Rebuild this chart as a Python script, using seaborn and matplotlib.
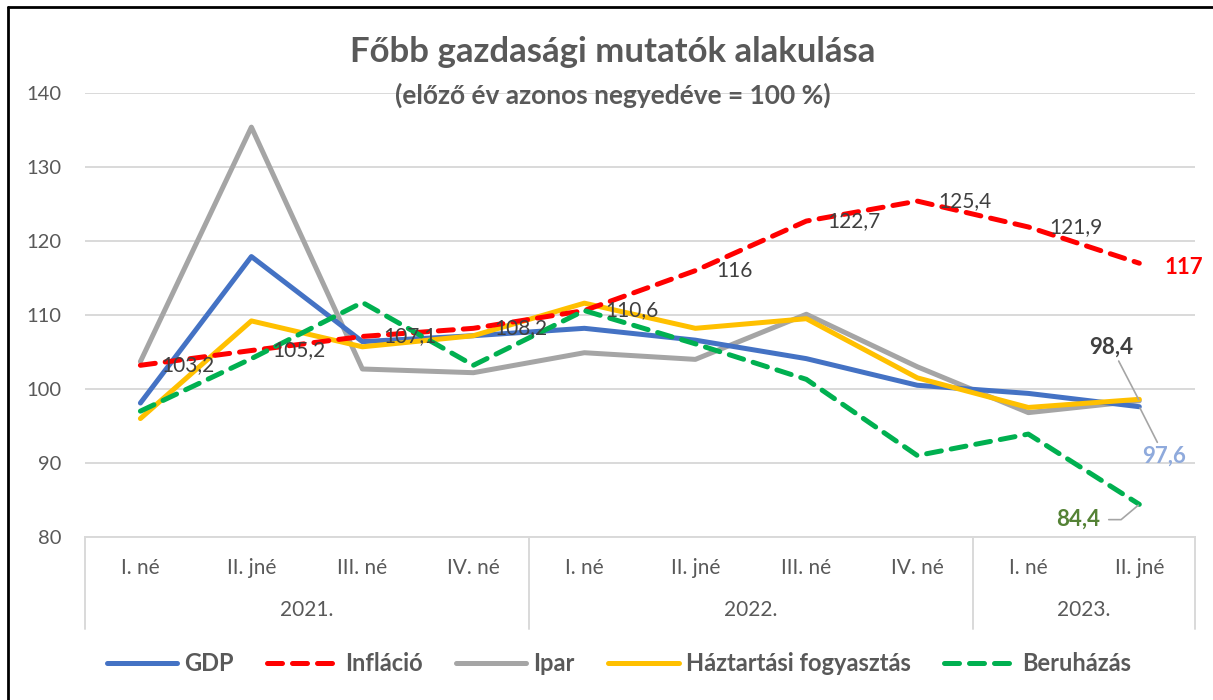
import matplotlib
matplotlib.use("Agg")
import matplotlib.pyplot as plt
import matplotlib.transforms as mtransforms
from matplotlib.lines import Line2D
import seaborn as sns
import pandas as pd

# ------------------------------------------------------------------
# Data
# ------------------------------------------------------------------
quarters = ["I. né", "II. jné", "III. né", "IV. né",
            "I. né", "II. jné", "III. né", "IV. né",
            "I. né", "II. jné"]
years = ["2021.", "2022.", "2023."]
year_sizes = [4, 4, 2]

gdp = [98.1, 117.9, 106.4, 107.2, 108.2, 106.6, 104.1, 100.5, 99.4, 97.6]
inflacio = [103.2, 105.2, 107.1, 108.2, 110.6, 116.0, 122.7, 125.4, 121.9, 117.0]
ipar = [103.7, 135.4, 102.7, 102.2, 104.9, 104.0, 110.1, 103.0, 96.8, 98.4]
haztartas = [96.0, 109.2, 105.7, 107.2, 111.6, 108.2, 109.5, 101.5, 97.5, 98.6]
beruhazas = [97.0, 104.1, 111.7, 103.2, 110.6, 106.1, 101.3, 91.0, 93.9, 84.4]

series_names = ["GDP", "Infláció", "Ipar", "Háztartási fogyasztás", "Beruházás"]
colors = {"GDP": "#4472C4", "Infláció": "#FF0000", "Ipar": "#A5A5A5",
          "Háztartási fogyasztás": "#FFC000", "Beruházás": "#00B050"}
dashed = {"Infláció", "Beruházás"}
DASH = (0, (3, 2))

sns.set_theme(style="white")
plt.rcParams["font.family"] = ["Lato", "DejaVu Sans"]

TXT = "#595959"
GRID = "#D9D9D9"

df = pd.DataFrame({"x": list(range(len(quarters))) * 5,
                   "value": gdp + inflacio + ipar + haztartas + beruhazas,
                   "series": sum([[s] * len(quarters) for s in series_names], [])})

fig = plt.figure(figsize=(12.13, 7.0), dpi=100)
ax = fig.add_axes([0.070, 0.233, 0.915, 0.634])

draw_order = ["Ipar", "GDP", "Háztartási fogyasztás", "Infláció", "Beruházás"]
for name in draw_order:
    sub = df[df["series"] == name]
    sns.lineplot(data=sub, x="x", y="value", ax=ax, color=colors[name],
                 linewidth=3.6, legend=False, sort=False,
                 linestyle=DASH if name in dashed else "-",
                 dash_capstyle="round", solid_capstyle="round")

ax.set_xlim(-0.5, len(quarters) - 0.5)
ax.set_ylim(80, 140)
ax.set_yticks(range(80, 141, 10))
ax.yaxis.grid(True, color=GRID, linewidth=1.4)
ax.set_axisbelow(True)
for sp in ["top", "right", "left"]:
    ax.spines[sp].set_visible(False)
ax.spines["bottom"].set_color(GRID)
ax.spines["bottom"].set_linewidth(1.4)
ax.tick_params(axis="y", labelsize=14.5, colors=TXT, length=0, pad=17)
ax.set_xticks([])
ax.set_xlabel("")
ax.set_ylabel("")

# multi-level category axis
trans = mtransforms.blended_transform_factory(ax.transData, ax.transAxes)
for i, q in enumerate(quarters):
    ax.text(i, -0.07, q, transform=trans, ha="center", va="center",
            fontsize=15, color=TXT)
edges = [-0.5]
for n in year_sizes:
    edges.append(edges[-1] + n)
for e in edges:
    ax.plot([e, e], [0, -0.208], transform=trans, color=GRID,
            linewidth=1.4, clip_on=False)
for y, a, b in zip(years, edges[:-1], edges[1:]):
    ax.text((a + b) / 2, -0.165, y, transform=trans, ha="center",
            va="center", fontsize=15, color=TXT)

# inflation data labels
for i, v in enumerate(inflacio[:-1]):
    ax.annotate(f"{v:g}".replace(".", ","), (i, v), xytext=(15, 0),
                textcoords="offset points", ha="left", va="center",
                fontsize=15, color="#404040")
ax.annotate("117", (9, inflacio[-1]), xytext=(32, -3), textcoords="offset points",
            ha="center", va="center", fontsize=16, fontweight="bold",
            color="#FF0000", annotation_clip=False)

# end labels with leader lines
lead = dict(arrowstyle="-", color="#A5A5A5", lw=1.2, shrinkA=0, shrinkB=1)
ax.annotate("98,4", (9, ipar[-1]), xytext=(-20, 31), textcoords="offset points",
            ha="center", va="bottom", fontsize=16, fontweight="bold", color="#404040",
            arrowprops=lead)
ax.annotate("97,6", (9, gdp[-1]), xytext=(18, -28), textcoords="offset points",
            ha="center", va="top", fontsize=16, fontweight="bold", color="#8FAADC",
            annotation_clip=False, arrowprops=lead)
ax.annotate("84,4", (9, beruhazas[-1]), xytext=(-44, -11), textcoords="offset points",
            ha="center", va="center", fontsize=16, fontweight="bold", color="#548235")
ax.annotate("", (9, beruhazas[-1]), xytext=(-22, -11), textcoords="offset points",
            arrowprops=dict(lead, connectionstyle="angle,angleA=0,angleB=40,rad=0"))

# titles
fig.text(0.505, 0.925, "Főbb gazdasági mutatók alakulása", ha="center", va="center",
         fontsize=25, fontweight="bold", color=TXT)
fig.text(0.505, 0.864, "(előző év azonos negyedéve = 100 %)", ha="center",
         va="center", fontsize=19, fontweight="bold", color=TXT)

# legend
handles = [Line2D([0], [0], color=colors[n], linewidth=3.6,
                  linestyle=DASH if n in dashed else "-",
                  dash_capstyle="round", solid_capstyle="round")
           for n in series_names]
leg = fig.legend(handles, series_names, loc="center", bbox_to_anchor=(0.51, 0.052),
                 ncol=5, frameon=False, handlelength=3.0, columnspacing=1.4,
                 handletextpad=0.3, prop={"weight": "bold", "size": 17})
for t in leg.get_texts():
    t.set_color(TXT)

# outer frame (left and top visible)
fig.add_artist(Line2D([0.0065, 0.0065], [0, 0.99], transform=fig.transFigure,
                      color="black", linewidth=2))
fig.add_artist(Line2D([0.0065, 1], [0.99, 0.99], transform=fig.transFigure,
                      color="black", linewidth=2))

fig.savefig("out.png", dpi=100)
